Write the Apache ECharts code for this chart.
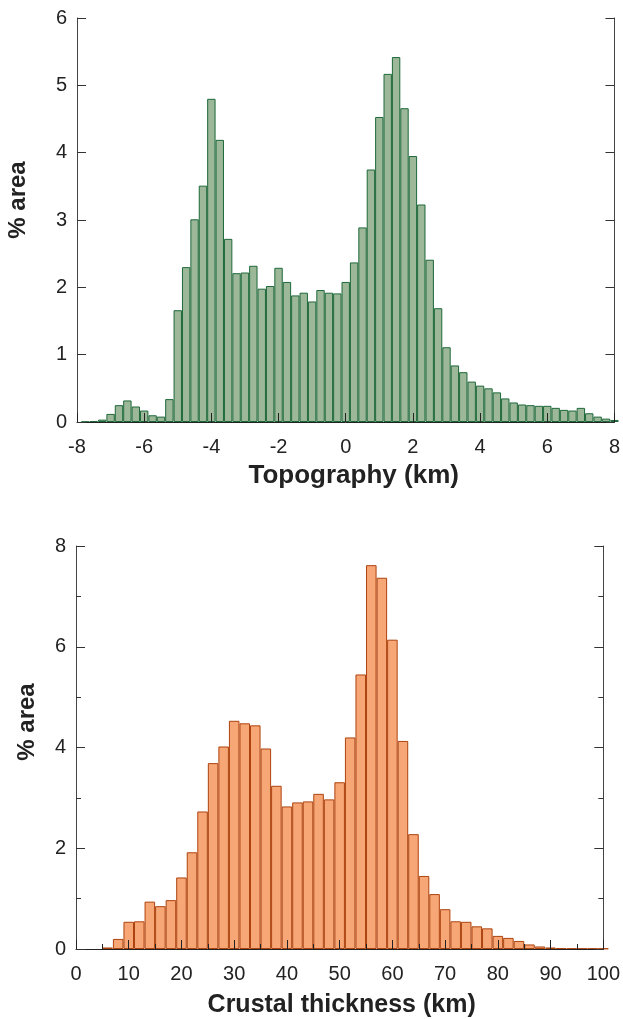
<!DOCTYPE html>
<html>
<head>
<meta charset="utf-8">
<script src="https://cdn.jsdelivr.net/npm/echarts@6/dist/echarts.min.js"></script>
<style>
    html, body { margin: 0; padding: 0; background: #fff; }
    #chart { width: 623px; height: 1019px; }
</style>
</head>
<body>
<div id="chart"></div>
<script>
// topography histogram, bin centres (km) and % area
const topoKm = [-7.75, -7.5, -7.25, -7, -6.75, -6.5, -6.25, -6, -5.75, -5.5,
    -5.25, -5, -4.75, -4.5, -4.25, -4, -3.75, -3.5, -3.25, -3, -2.75, -2.5, -2.25, -2,
    -1.75, -1.5, -1.25, -1, -0.75, -0.5, -0.25, 0,
    0.25, 0.5, 0.75, 1, 1.25, 1.5, 1.75, 2, 2.25, 2.5, 2.75, 3, 3.25, 3.5, 3.75, 4,
    4.25, 4.5, 4.75, 5, 5.25, 5.5, 5.75, 6, 6.25, 6.5, 6.75, 7, 7.25, 7.5, 7.75, 8];
const topoArea = [0.005, 0.015, 0.035, 0.12, 0.25, 0.32, 0.23, 0.17, 0.10, 0.08,
    0.34, 1.66, 2.30, 3.01, 3.51, 4.80, 4.19, 2.72, 2.21, 2.22, 2.32, 1.98, 2.02, 2.29,
    2.08, 1.88, 1.92, 1.79, 1.96, 1.92, 1.91, 2.08,
    2.37, 2.89, 3.75, 4.53, 5.17, 5.42, 4.66, 3.95, 3.23, 2.41, 1.69, 1.11, 0.84, 0.74, 0.60, 0.54,
    0.50, 0.44, 0.35, 0.29, 0.26, 0.25, 0.24, 0.24, 0.21, 0.18, 0.17, 0.21, 0.13, 0.08, 0.05, 0.03];

// crustal thickness histogram, bin centres (km) and % area
const crustKm = [6, 8, 10, 12, 14, 16, 18, 20, 22, 24, 26, 28, 30, 32, 34, 36, 38, 40,
    42, 44, 46, 48, 50, 52, 54, 56, 58, 60, 62, 64, 66, 68, 70, 72, 74, 76, 78, 80,
    82, 84, 86, 88, 90, 92, 94, 96, 98, 100];
const crustArea = [0.03, 0.20, 0.54, 0.55, 0.94, 0.85, 0.97, 1.42, 1.92, 2.73, 3.69, 4.02,
    4.53, 4.48, 4.44, 3.98, 3.24, 2.83, 2.91, 2.93, 3.08, 2.97, 3.31, 4.20, 5.45, 7.62,
    7.37, 6.14, 4.13, 2.28, 1.45, 1.09, 0.79, 0.55, 0.54, 0.45, 0.41, 0.26, 0.22, 0.16,
    0.09, 0.05, 0.03, 0.015, 0.01, 0.01, 0.01, 0.01];

// axis ranges [min, max, interval]
const topoX = [-8, 8, 2];
const topoY = [0, 6, 1];
const crustX = [0, 100, 10];
const crustY = [0, 8, 2];

const font = 'Liberation Sans';
const ink = '#222';

function pairs(xs, ys) {
    return xs.map(function(x, i) { return [x, ys[i]]; });
}

function xAxisOf(grid, range, name, gap, size, shift, minor) {
    return {
        gridIndex: grid,
        type: 'value',
        min: range[0],
        max: range[1],
        interval: range[2],
        z: 10,
        axisLine: { show: true, onZero: false, lineStyle: { color: ink, width: 1 } },
        axisTick: { show: true, inside: true, length: 9, lineStyle: { color: ink } },
        minorTick: { show: minor, splitNumber: 2, length: 5, lineStyle: { color: ink } },
        axisLabel: { fontFamily: font, fontSize: 20, color: ink, margin: 15 },
        splitLine: { show: false },
        name: name,
        nameLocation: 'middle',
        nameGap: gap,
        nameTextStyle: {
            fontFamily: font, fontSize: size, fontWeight: 'bold', color: ink,
            padding: [0, 0, 0, shift]
        }
    };
}

function yAxisOf(grid, range, side, minor) {
    return {
        gridIndex: grid,
        type: 'value',
        position: side,
        min: range[0],
        max: range[1],
        interval: range[2],
        z: 10,
        axisLine: { show: true, onZero: false, lineStyle: { color: '#444', width: 1 } },
        axisTick: { show: true, inside: true, length: 9, lineStyle: { color: '#333' } },
        minorTick: { show: minor, splitNumber: 2, length: 5, lineStyle: { color: '#333' } },
        axisLabel: { show: side === 'left', fontFamily: font, fontSize: 20, color: ink, margin: 10 },
        splitLine: { show: false }
    };
}

let myChart = echarts.init(document.getElementById('chart'), null, { renderer: 'canvas' });

let option = {
    animation: false,
    backgroundColor: '#fff',
    grid: [
        { left: 77, right: 8, top: 18, height: 404 },
        { left: 76, right: 9, top: 546, height: 403 }
    ],
    xAxis: [
        xAxisOf(0, topoX, 'Topography (km)', 41, 26, 16, false),
        xAxisOf(1, crustX, 'Crustal thickness (km)', 44, 25, 4, true)
    ],
    yAxis: [
        yAxisOf(0, topoY, 'left', false),
        yAxisOf(0, topoY, 'right', false),
        yAxisOf(1, crustY, 'left', true),
        yAxisOf(1, crustY, 'right', true)
    ],
    graphic: [
        {
            type: 'text', x: 18, y: 200, rotation: Math.PI / 2,
            style: {
                text: '% area', font: 'bold 24px "Liberation Sans"', fill: ink,
                textAlign: 'center', textVerticalAlign: 'middle'
            }
        },
        {
            type: 'text', x: 27, y: 722, rotation: Math.PI / 2,
            style: {
                text: '% area', font: 'bold 24px "Liberation Sans"', fill: ink,
                textAlign: 'center', textVerticalAlign: 'middle'
            }
        }
    ],
    series: [
        {
            name: 'Topography',
            type: 'bar',
            xAxisIndex: 0,
            yAxisIndex: 0,
            barWidth: '100%',
            itemStyle: { color: '#9cb899', borderColor: '#1d683a', borderWidth: 1 },
            data: pairs(topoKm, topoArea)
        },
        {
            name: 'Crustal thickness',
            type: 'bar',
            xAxisIndex: 1,
            yAxisIndex: 2,
            barWidth: '100%',
            itemStyle: { color: '#f7a676', borderColor: '#ad430e', borderWidth: 1 },
            data: pairs(crustKm, crustArea)
        }
    ]
};

myChart.setOption(option);
</script>
</body>
</html>
